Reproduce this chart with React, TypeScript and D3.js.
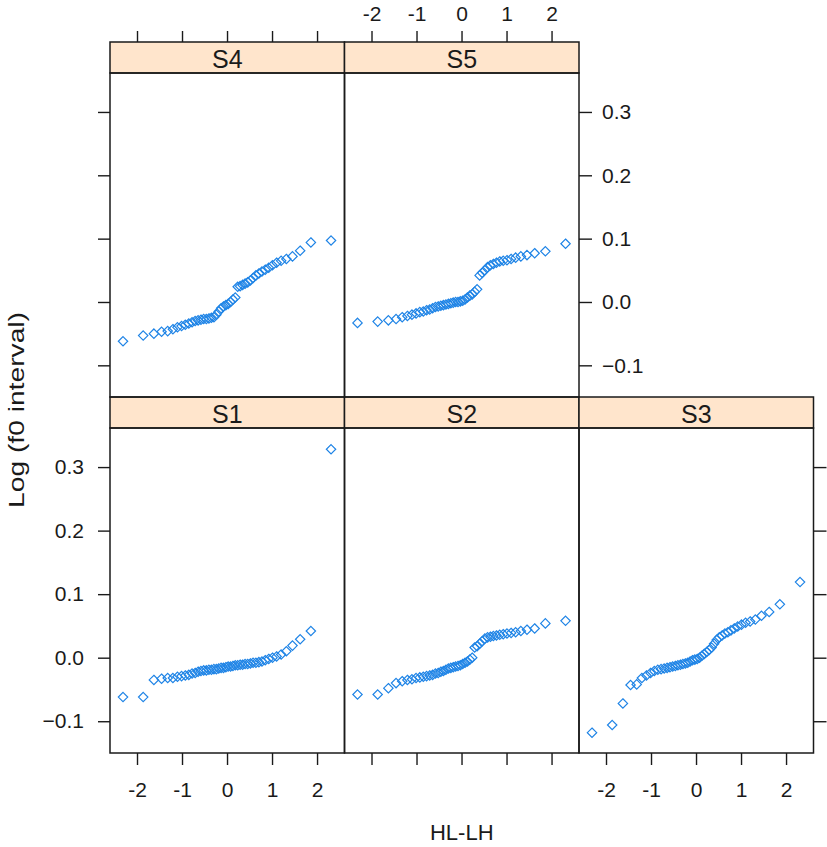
import React, { useEffect, useRef } from 'react';
import * as d3 from 'd3';

// sorted sample values per panel, plotted against normal quantiles
const s1 = [-0.062, -0.062, -0.035, -0.033, -0.032, -0.032, -0.030, -0.029, -0.028, -0.027,
  -0.025, -0.024, -0.022, -0.021, -0.020, -0.020, -0.019, -0.019, -0.018, -0.018,
  -0.017, -0.016, -0.016, -0.015, -0.014, -0.014, -0.013, -0.012, -0.012, -0.011,
  -0.011, -0.010, -0.010, -0.009, -0.008, -0.008, -0.007, -0.006, -0.004, -0.002,
  0.000, 0.002, 0.005, 0.010, 0.019, 0.029, 0.042, 0.328];
const s2 = [-0.058, -0.058, -0.048, -0.040, -0.037, -0.035, -0.034, -0.032, -0.031, -0.030,
  -0.029, -0.028, -0.027, -0.025, -0.024, -0.022, -0.021, -0.019, -0.017, -0.016,
  -0.015, -0.014, -0.013, -0.012, -0.010, -0.008, -0.006, -0.003, 0.000, 0.016,
  0.018, 0.022, 0.026, 0.030, 0.032, 0.033, 0.034, 0.035, 0.036, 0.037,
  0.038, 0.039, 0.040, 0.042, 0.044, 0.046, 0.054, 0.058];
const s3 = [-0.118, -0.106, -0.072, -0.043, -0.042, -0.032, -0.028, -0.024, -0.021, -0.019,
  -0.018, -0.017, -0.016, -0.015, -0.014, -0.013, -0.012, -0.011, -0.010, -0.009,
  -0.008, -0.006, -0.004, -0.003, -0.002, 0.000, 0.003, 0.006, 0.009, 0.012,
  0.016, 0.022, 0.028, 0.032, 0.035, 0.038, 0.040, 0.043, 0.046, 0.049,
  0.052, 0.055, 0.057, 0.060, 0.066, 0.072, 0.084, 0.119];
const s4 = [-0.062, -0.053, -0.050, -0.047, -0.046, -0.043, -0.040, -0.038, -0.036, -0.034,
  -0.032, -0.030, -0.029, -0.028, -0.027, -0.027, -0.026, -0.025, -0.024, -0.020,
  -0.015, -0.010, -0.007, -0.005, -0.003, 0.000, 0.004, 0.007, 0.024, 0.025,
  0.027, 0.029, 0.031, 0.034, 0.038, 0.042, 0.045, 0.048, 0.051, 0.054,
  0.058, 0.062, 0.065, 0.068, 0.072, 0.081, 0.094, 0.097];
const s5 = [-0.033, -0.031, -0.029, -0.027, -0.024, -0.022, -0.020, -0.018, -0.016, -0.015,
  -0.013, -0.012, -0.010, -0.008, -0.007, -0.006, -0.005, -0.004, -0.003, -0.002,
  -0.001, 0.000, 0.000, 0.001, 0.002, 0.004, 0.007, 0.010, 0.012, 0.016,
  0.020, 0.042, 0.046, 0.050, 0.055, 0.058, 0.060, 0.062, 0.064, 0.065,
  0.066, 0.068, 0.070, 0.072, 0.074, 0.077, 0.080, 0.092];

const xTicks = [-2, -1, 0, 1, 2];
const yTicks = [-0.1, 0.0, 0.1, 0.2, 0.3];

// inverse normal cdf (Acklam), used for the theoretical quantiles like qqmath
function qnorm(p: number) {
  const a = [-39.69683028665376, 220.9460984245205, -275.9285104469687, 138.357751867269, -30.66479806614716, 2.506628277459239];
  const b = [-54.47609879822406, 161.5858368580409, -155.6989798598866, 66.80131188771972, -13.28068155288572];
  const c = [-0.007784894002430293, -0.3223964580411365, -2.400758277161838, -2.549732539343734, 4.374664141464968, 2.938163982698783];
  const d = [0.007784695709041462, 0.3224671290700398, 2.445134137142996, 3.754408661907416];
  const lo = 0.02425;
  if (p < lo) {
    const q = Math.sqrt(-2 * Math.log(p));
    return (((((c[0] * q + c[1]) * q + c[2]) * q + c[3]) * q + c[4]) * q + c[5]) / ((((d[0] * q + d[1]) * q + d[2]) * q + d[3]) * q + 1);
  }
  if (p > 1 - lo) {
    const q = Math.sqrt(-2 * Math.log(1 - p));
    return -(((((c[0] * q + c[1]) * q + c[2]) * q + c[3]) * q + c[4]) * q + c[5]) / ((((d[0] * q + d[1]) * q + d[2]) * q + d[3]) * q + 1);
  }
  const q = p - 0.5;
  const r = q * q;
  return (((((a[0] * r + a[1]) * r + a[2]) * r + a[3]) * r + a[4]) * r + a[5]) * q / (((((b[0] * r + b[1]) * r + b[2]) * r + b[3]) * r + b[4]) * r + 1);
}

const panels = [
  { name: 'S1', values: s1, col: 0, row: 1 },
  { name: 'S2', values: s2, col: 1, row: 1 },
  { name: 'S3', values: s3, col: 2, row: 1 },
  { name: 'S4', values: s4, col: 0, row: 0 },
  { name: 'S5', values: s5, col: 1, row: 0 },
];

const W = 827;
const H = 847;
const colEdges = [110, 344.5, 579, 813.5];
const rows = [
  { stripTop: 42, top: 73, bottom: 397 },
  { stripTop: 397, top: 428, bottom: 753 },
];
const font = "'Liberation Sans', Arial, Helvetica, sans-serif";
const ink = '#1a1a1a';

export default function App() {
  const svgRef = useRef<SVGSVGElement>(null);

  useEffect(() => {
    if (!svgRef.current) return;
    const svg = d3.select(svgRef.current);
    svg.selectAll('*').remove();

    const xScale = (col: number) => d3.scaleLinear().domain([-2.6, 2.61]).range([colEdges[col], colEdges[col + 1]]);
    const yScale = (row: number) => d3.scaleLinear().domain([-0.15, 0.3615]).range([rows[row].bottom, rows[row].top]);

    const styleAxis = (g: d3.Selection<SVGGElement, unknown, null, undefined>) => {
      g.select('.domain').remove();
      g.selectAll('line').attr('stroke', ink).attr('stroke-width', 1.4);
      g.selectAll('text').attr('fill', ink).style('font-family', font).style('font-size', '21px');
    };
    const fmtY = d3.format('.1f');

    const symbolType = (d3 as any).symbolDiamond2 || d3.symbolDiamond;
    const diamond = d3.symbol(symbolType, 56)();

    panels.forEach(p => {
      const x = xScale(p.col);
      const y = yScale(p.row);
      const r = rows[p.row];
      const x0 = colEdges[p.col];
      const x1 = colEdges[p.col + 1];
      const n = p.values.length;

      // strip
      svg.append('rect')
        .attr('x', x0).attr('y', r.stripTop)
        .attr('width', x1 - x0).attr('height', r.top - r.stripTop)
        .attr('fill', '#ffe5cc')
        .attr('stroke', ink).attr('stroke-width', 1.5);
      svg.append('text')
        .attr('x', (x0 + x1) / 2).attr('y', r.top - 5)
        .attr('text-anchor', 'middle')
        .style('font-family', font).style('font-size', '25px')
        .attr('fill', ink)
        .text(p.name);

      // points
      const clip = `clip-${p.name}`;
      svg.append('clipPath').attr('id', clip)
        .append('rect').attr('x', x0).attr('y', r.top).attr('width', x1 - x0).attr('height', r.bottom - r.top);
      svg.append('g').attr('clip-path', `url(#${clip})`)
        .selectAll('path')
        .data(p.values)
        .enter()
        .append('path')
        .attr('d', diamond)
        .attr('transform', (v, i) => `translate(${x(qnorm((i + 0.5) / n))},${y(v)})`)
        .attr('fill', 'none')
        .attr('stroke', '#1f84e6')
        .attr('stroke-width', 1.2);

      // panel border
      svg.append('rect')
        .attr('x', x0).attr('y', r.top)
        .attr('width', x1 - x0).attr('height', r.bottom - r.top)
        .attr('fill', 'none')
        .attr('stroke', ink).attr('stroke-width', 1.5);

      // bottom x axis (bottom row only)
      if (p.row === 1) {
        const ax = d3.axisBottom(x).tickValues(xTicks).tickSize(12).tickPadding(17).tickSizeOuter(0)
          .tickFormat(p.col === 1 ? () => '' : (d => String(d)));
        svg.append('g').attr('transform', `translate(0,${r.bottom})`).call(ax).call(styleAxis);
      }
      // top x axis (top row)
      if (p.row === 0) {
        const ax = d3.axisTop(x).tickValues(xTicks).tickSize(11).tickPadding(10).tickSizeOuter(0)
          .tickFormat(p.col === 1 ? (d => String(d)) : () => '');
        svg.append('g').attr('transform', `translate(0,${r.stripTop})`).call(ax).call(styleAxis);
      }
      // left y axis
      if (p.col === 0) {
        const ay = d3.axisLeft(y).tickValues(yTicks).tickSize(12).tickPadding(14).tickSizeOuter(0)
          .tickFormat(p.row === 1 ? (d => fmtY(d as number)) : () => '');
        svg.append('g').attr('transform', `translate(${x0},0)`).call(ay).call(styleAxis);
      }
      // right y axis on the last panel of each row
      if ((p.row === 0 && p.col === 1) || (p.row === 1 && p.col === 2)) {
        const ay = d3.axisRight(y).tickValues(yTicks).tickSize(13).tickPadding(10).tickSizeOuter(0)
          .tickFormat(p.row === 0 ? (d => fmtY(d as number)) : () => '');
        svg.append('g').attr('transform', `translate(${x1},0)`).call(ay).call(styleAxis);
      }
    });

    // axis titles
    svg.append('text')
      .attr('x', (colEdges[0] + colEdges[3]) / 2).attr('y', 840)
      .attr('text-anchor', 'middle')
      .style('font-family', font).style('font-size', '22px')
      .attr('fill', ink)
      .text('HL-LH');
    svg.append('text')
      .attr('transform', `translate(24,410) rotate(-90)`)
      .attr('text-anchor', 'middle')
      .attr('textLength', 196)
      .attr('lengthAdjust', 'spacingAndGlyphs')
      .style('font-family', font).style('font-size', '22px')
      .attr('fill', ink)
      .text('Log (f0 interval)');
  }, []);

  return (
    <svg
      ref={svgRef}
      width={W}
      height={H}
      style={{ position: 'absolute', left: 0, top: 0, background: '#fff' }}
    />
  );
}
